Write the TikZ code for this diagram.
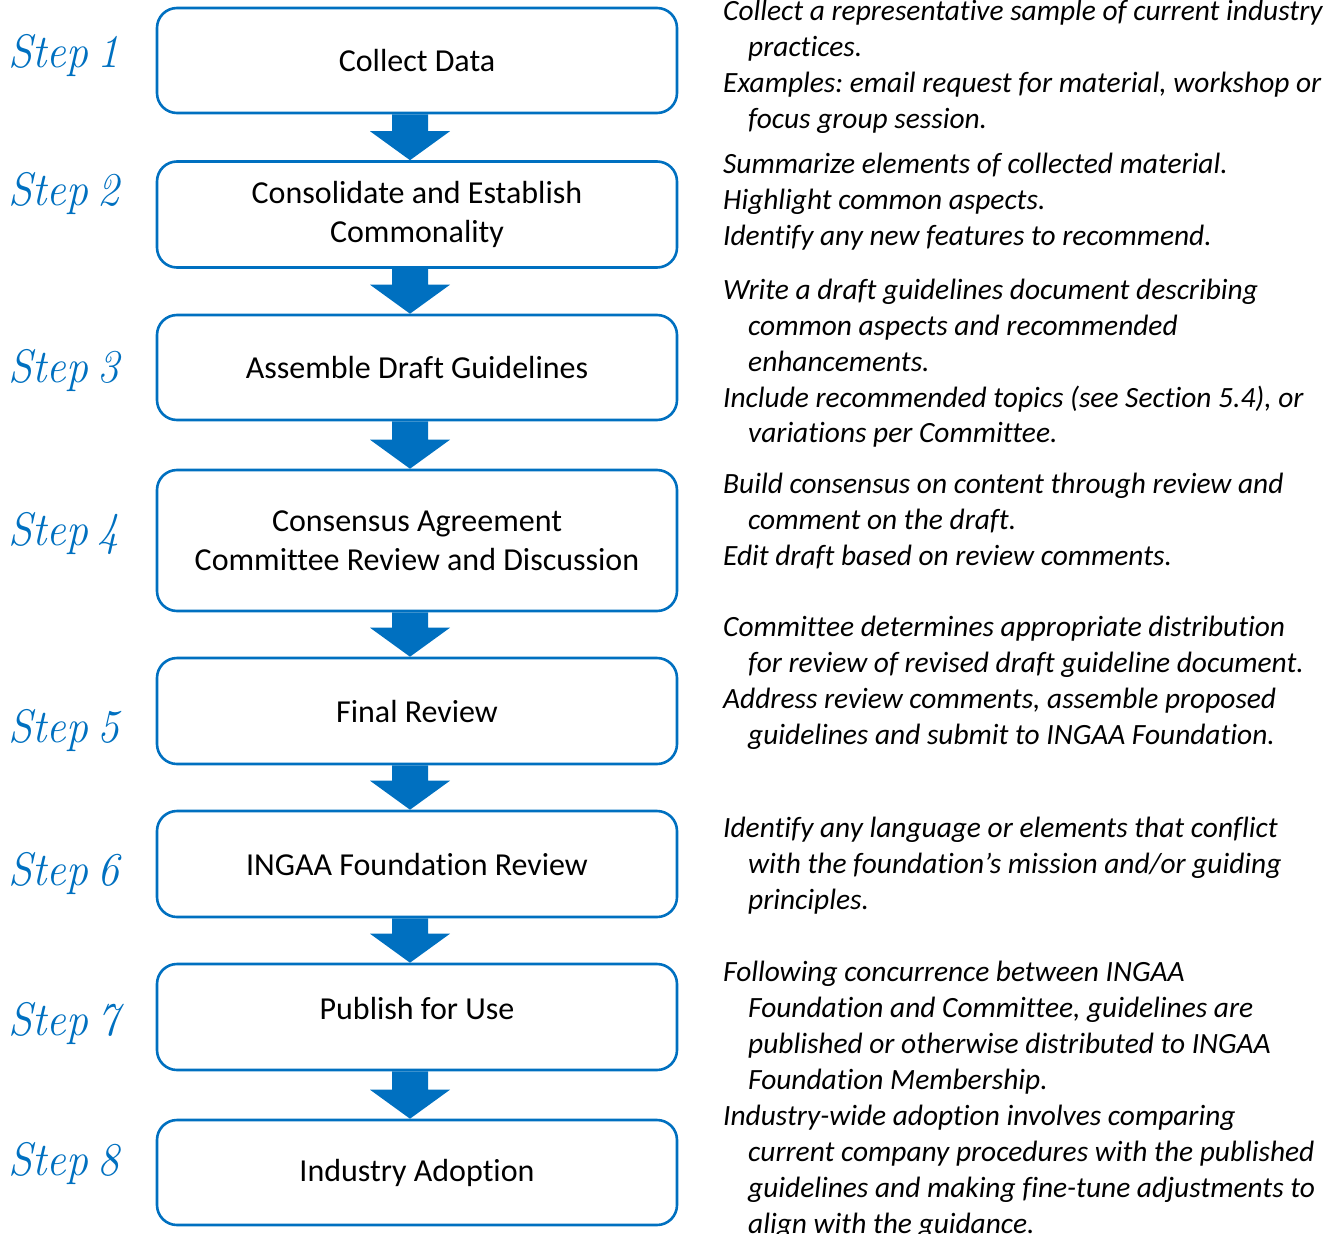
\documentclass[tikz,border=0pt]{standalone}
\usepackage{fontspec}
\setmainfont{Carlito}[Ligatures=NoCommon]
\usetikzlibrary{calc}
\definecolor{stepblue}{HTML}{0070C0}
\frenchspacing
\newcommand{\ind}{\hspace*{25pt}}
\newcommand{\stp}[1]{\scalebox{0.93}[1]{Step\hspace{0.22em}#1}}
\begin{document}
\begin{tikzpicture}[x=1pt,y=-1pt,
  stepbox/.style={draw=stepblue, fill=white, line width=2.6pt, rounded corners=20pt,
    minimum width=520pt, align=center, inner sep=0pt,
    font=\fontsize{32}{39}\selectfont},
  liftup/.style={text depth=#1},
  steplabel/.style={anchor=base west, inner sep=0pt, text=stepblue,
    font=\fontfamily{lmr}\itshape\fontsize{47}{47}\selectfont},
  desc/.style={anchor=north west, align=left, inner sep=0pt,
    font=\itshape\fontsize{29.4}{35.8}\selectfont}]
\useasboundingbox (0,0) rectangle (1336,1234);

% boxes
\node[stepbox, minimum height=105pt] (b1) at (417,60.5) {Collect Data};
\node[stepbox, minimum height=106pt] (b2) at (417,214.5) {Consolidate and Establish\\Commonality};
\node[stepbox, minimum height=105pt] (b3) at (417,367.5) {Assemble Draft Guidelines};
\node[stepbox, minimum height=141pt] (b4) at (417,540.5) {Consensus Agreement\\Committee Review and Discussion};
\node[stepbox, minimum height=106pt] (b5) at (417,711) {Final Review};
\node[stepbox, minimum height=106pt] (b6) at (417,864) {INGAA Foundation Review};
\node[stepbox, minimum height=106pt, liftup=18pt] (b7) at (417,1017) {Publish for Use};
\node[stepbox, minimum height=105pt] (b8) at (417,1172.5) {Industry Adoption};

% block arrows
\foreach \a/\b in {b1/b2,b2/b3,b3/b4,b4/b5,b5/b6,b6/b7,b7/b8}{
  \path ($(\a.south)+(-7,0)$) coordinate (s) ($(\b.north)+(-7,0)$) coordinate (t);
  \fill[stepblue] let \p1=(s), \p2=(t) in
    (\x1-18pt,\y1) -- (\x1+18pt,\y1) -- (\x1+18pt,\y2+29pt) -- (\x1+40pt,\y2+29pt)
    -- (\x2,\y2) -- (\x1-40pt,\y2+29pt) -- (\x1-18pt,\y2+29pt) -- cycle;
}

% step labels
\node[steplabel] (s1) at (8,67) {\stp{1}};
\node[steplabel] (s2) at (8,205) {\stp{2}};
\node[steplabel] (s3) at (8,382) {\stp{3}};
\node[steplabel] (s4) at (8,545) {\stp{4}};
\node[steplabel] (s5) at (8,742) {\stp{5}};
\node[steplabel] (s6) at (8,885) {\stp{6}};
\node[steplabel] (s7) at (8,1035) {\stp{7}};
\node[steplabel] (s8) at (8,1175) {\stp{8}};

% descriptions
\node[desc] (d1) at (723,0) {Collect a representative sample of current industry\\\ind practices.\\Examples: email request for material, workshop or\\\ind focus group session.};
\node[desc] (d2) at (723,153) {Summarize elements of collected material.\\Highlight common aspects.\\Identify any new features to recommend.};
\node[desc] (d3) at (723,279) {Write a draft guidelines document describing\\\ind common aspects and recommended\\\ind enhancements.\\Include recommended topics (see Section 5.4), or\\\ind variations per Committee.};
\node[desc] (d4) at (723,473) {Build consensus on content through review and\\\ind comment on the draft.\\Edit draft based on review comments.};
\node[desc] (d5) at (723,616) {Committee determines appropriate distribution\\\ind for review of revised draft guideline document.\\Address review comments, assemble proposed\\\ind guidelines and submit to INGAA Foundation.};
\node[desc] (d6) at (723,817) {Identify any language or elements that conflict\\\ind with the foundation’s mission and/or guiding\\\ind principles.};
\node[desc] (d7) at (723,961) {Following concurrence between INGAA\\\ind Foundation and Committee, guidelines are\\\ind published or otherwise distributed to INGAA\\\ind Foundation Membership.};
\node[desc] (d8) at (723,1105) {Industry-wide adoption involves comparing\\\ind current company procedures with the published\\\ind guidelines and making fine-tune adjustments to\\\ind align with the guidance.};
\end{tikzpicture}
\end{document}
